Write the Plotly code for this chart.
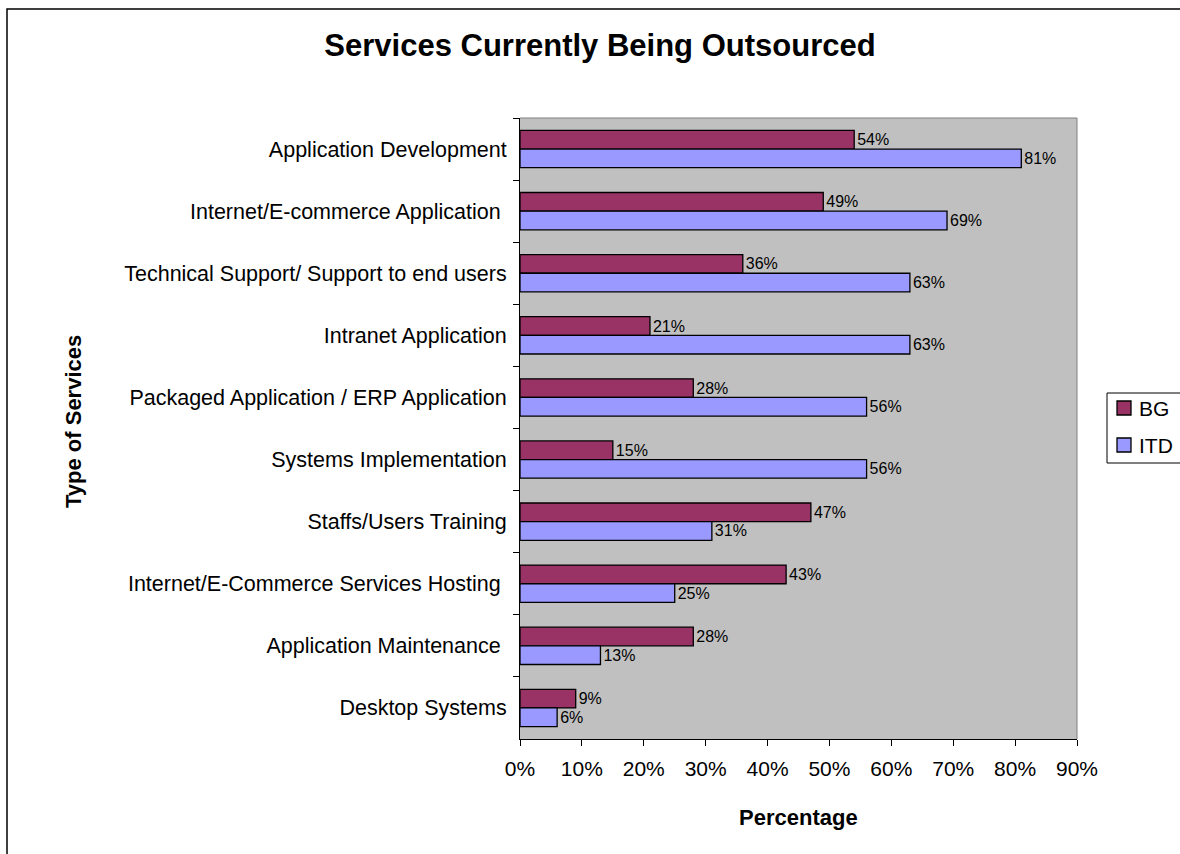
import plotly.graph_objects as go

# Service categories, listed top to bottom
services = [
    "Application Development",
    "Internet/E-commerce Application ",
    "Technical Support/ Support to end users",
    "Intranet Application",
    "Packaged Application / ERP Application",
    "Systems Implementation",
    "Staffs/Users Training",
    "Internet/E-Commerce Services Hosting ",
    "Application Maintenance ",
    "Desktop Systems",
]
bg_pct = [54, 49, 36, 21, 28, 15, 47, 43, 28, 9]
itd_pct = [81, 69, 63, 63, 56, 56, 31, 25, 13, 6]
x_ticks = [0, 10, 20, 30, 40, 50, 60, 70, 80, 90]

FONT = "Liberation Sans, Arial, sans-serif"
BG_COLOR = "#993366"
ITD_COLOR = "#9999FF"

W, H = 1180, 854
L, R, T, B = 520, W - 1077, 118, H - 739
pw, ph = W - L - R, H - T - B


def px_x(px):
    return (px - L) / pw


def px_y(py):
    return (H - B - py) / ph


fig = go.Figure()
fig.add_trace(go.Bar(
    name="BG", y=services, x=bg_pct, orientation="h",
    marker=dict(color=BG_COLOR, line=dict(color="black", width=1.3)),
    text=[f"{v}%" for v in bg_pct], textposition="outside",
    textfont=dict(size=16, color="black", family=FONT), cliponaxis=False,
))
fig.add_trace(go.Bar(
    name="ITD", y=services, x=itd_pct, orientation="h",
    marker=dict(color=ITD_COLOR, line=dict(color="black", width=1.3)),
    text=[f"{v}%" for v in itd_pct], textposition="outside",
    textfont=dict(size=16, color="black", family=FONT), cliponaxis=False,
))

fig.update_layout(
    width=W, height=H,
    margin=dict(l=L, r=R, t=T, b=B, autoexpand=False),
    paper_bgcolor="white", plot_bgcolor="#C0C0C0",
    barmode="group", bargap=0.4, bargroupgap=0,
    font=dict(family=FONT, size=21, color="black"),
    title=dict(text="<b>Services Currently Being Outsourced</b>",
               x=600 / W, xref="container", xanchor="center",
               y=1 - 45 / H, yref="container", yanchor="middle",
               font=dict(size=31, family=FONT)),
    showlegend=False,
    xaxis=dict(range=[0, 90], tickvals=x_ticks,
               ticktext=[f"{v}%" for v in x_ticks],
               showgrid=False, zeroline=False, automargin=False,
               showline=True, linecolor="black", linewidth=1,
               ticks="outside", ticklen=6, tickcolor="black",
               tickfont=dict(size=21), ticklabelstandoff=5),
    yaxis=dict(categoryorder="array", categoryarray=services, autorange="reversed",
               showgrid=False, zeroline=False, automargin=False,
               showline=True, linecolor="black", linewidth=1,
               ticks="outside", ticklen=6, tickcolor="black", tickson="boundaries",
               tickfont=dict(size=21.5), ticklabelstandoff=8),
)

# Axis titles
fig.add_annotation(text="<b>Percentage</b>", xref="paper", yref="paper",
                   x=0.5, y=px_y(817), showarrow=False,
                   font=dict(size=22), xanchor="center", yanchor="middle")
fig.add_annotation(text="<b>Type of Services</b>", xref="paper", yref="paper",
                   x=px_x(74), y=px_y(422), showarrow=False, textangle=-90,
                   font=dict(size=22), xanchor="center", yanchor="middle")

# Grey frame on the top and right of the plot area
fig.add_shape(type="line", xref="paper", yref="paper", x0=0, x1=1, y0=1, y1=1,
              line=dict(color="#808080", width=1))
fig.add_shape(type="line", xref="paper", yref="paper", x0=1, x1=1, y0=0, y1=1,
              line=dict(color="#808080", width=1))

# Outer chart border
fig.add_shape(type="rect", xref="paper", yref="paper",
              x0=px_x(7), x1=px_x(W + 20), y0=px_y(H + 20), y1=px_y(9),
              line=dict(color="black", width=1.5), layer="below")

# Legend box with swatches
fig.add_shape(type="rect", xref="paper", yref="paper",
              x0=px_x(1107), x1=px_x(W + 20), y0=px_y(463), y1=px_y(393),
              line=dict(color="black", width=1), fillcolor="white")
for name, color, cy in [("BG", BG_COLOR, 408), ("ITD", ITD_COLOR, 445)]:
    fig.add_shape(type="rect", xref="paper", yref="paper",
                  x0=px_x(1117), x1=px_x(1131), y0=px_y(cy + 7), y1=px_y(cy - 7),
                  line=dict(color="black", width=1.3), fillcolor=color)
    fig.add_annotation(text=name, xref="paper", yref="paper",
                       x=px_x(1137), y=px_y(cy), showarrow=False,
                       font=dict(size=21), xanchor="left", yanchor="middle")

fig.write_html("out.html")
